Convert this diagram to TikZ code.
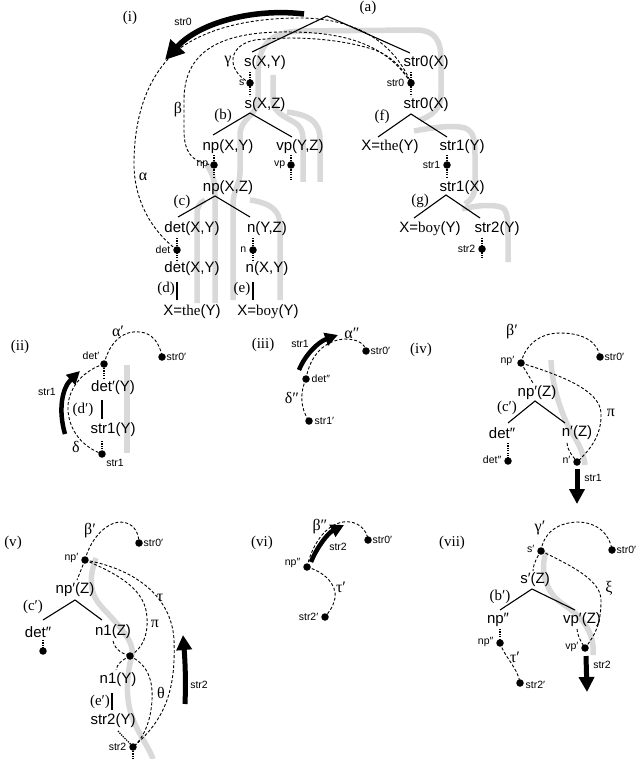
\documentclass[tikz,border=0pt]{standalone}
\usepackage{fontspec}
\setmainfont{Liberation Serif}
\setsansfont{Liberation Sans}
\usetikzlibrary{arrows.meta}
\tikzset{
 tx/.style={font=\sffamily\fontsize{15}{15}\selectfont, inner sep=0.5pt},
 sm/.style={font=\sffamily\fontsize{10.5}{11}\selectfont, inner sep=0.5pt},
 lb/.style={font=\rmfamily\fontsize{15}{15}\selectfont, inner sep=0.5pt},
 gk/.style={font=\rmfamily\fontsize{16}{16}\selectfont, inner sep=0.5pt},
 dotn/.style={circle, fill=black, minimum size=7.5pt, inner sep=0pt},
 tree/.style={line width=1.1pt},
 dsh/.style={line width=0.9pt, dash pattern=on 3pt off 2pt},
 dtd/.style={line width=1.3pt, dash pattern=on 1.2pt off 1.2pt},
 grl/.style={line width=5.5pt, draw=gray!30},
 bigarr/.style={line width=5.5pt, -{Triangle[length=19pt,width=19pt]}},
 midarr/.style={line width=5pt, -{Triangle[length=15pt,width=15pt]}},
 smarr/.style={line width=4.5pt, -{Triangle[length=13pt,width=13pt]}},
}
\begin{document}
\begin{tikzpicture}[x=1pt,y=-1pt]
\useasboundingbox (0,0) rectangle (640,759);

% ---------------- gray threads ----------------
\draw[grl] (258,100) -- (258,75) .. controls (258,45) and (270,32) .. (300,31) -- (415,30) .. controls (435,30) and (441,40) .. (441,60) -- (441,95) .. controls (441,108) and (432,116) .. (420,120);
\draw[grl] (414,131) .. controls (435,127) and (455,125) .. (465,128) .. controls (474,132) and (475,140) .. (475,155) -- (475,185) .. controls (475,195) and (471,200) .. (465,204);
\draw[grl] (462,209) .. controls (478,205) and (495,204) .. (503,208) .. controls (508,212) and (508,222) .. (508,240) -- (508,262);
\draw[grl] (273,75) -- (273,100) .. controls (273,115) and (290,118) .. (298,125) .. controls (303,130) and (303,135) .. (303,145) -- (303,182);
\draw[grl] (287,112) .. controls (310,115) and (320,122) .. (320,140) -- (320,182);
\draw[grl] (258,100) .. controls (258,115) and (240,118) .. (240,135) -- (240,172) .. controls (240,185) and (233,190) .. (233,205) -- (233,300);
\draw[grl] (207,165) .. controls (213,175) and (215,180) .. (215,195) -- (215,303);
\draw[grl] (205,200) .. controls (199,203) and (197,207) .. (197,215) -- (197,303);
\draw[grl] (250,200) .. controls (270,203) and (280,210) .. (280,225) -- (280,300);
\draw[grl] (127,365) -- (127,453);
\draw[grl] (551,360) .. controls (552,385) and (560,410) .. (570,430) .. controls (580,445) and (584,455) .. (585,465);
\draw[grl] (96,558) .. controls (90,575) and (88,590) .. (100,605) .. controls (115,622) and (135,640) .. (132,655) .. controls (128,670) and (125,690) .. (130,710) .. controls (135,730) and (148,745) .. (153,759);
\draw[grl] (546,552) .. controls (540,570) and (545,590) .. (560,602) .. controls (580,615) and (595,630) .. (593,655);

% ---------------- panel (i) ----------------
\node[lb] (Li) at (130,18) {(i)};
\node[lb] (La) at (368,8) {(a)};
\coordinate (a) at (327,16);
\coordinate (sXYt) at (252,52);
\coordinate (str0Xt) at (410,53);
\draw[tree] (sXYt) -- (a) -- (str0Xt);
\node[tx] (sXY) at (265,63) {s(X,Y)};
\node[tx] (str0X) at (426,63) {str0(X)};
\node[dotn] (sdot) at (250,83) {};
\node[sm,anchor=east] (sdl) at (245,83) {s};
\draw[dtd] (250,72) -- (250,96);
\node[tx] (sXZ) at (265,105) {s(X,Z)};
\node[lb] (Lb) at (223,116) {(b)};
\coordinate (b) at (250,113);
\coordinate (npt) at (213,135);
\coordinate (vpt) at (292,137);
\draw[tree] (npt) -- (b) -- (vpt);
\node[tx] (npXY) at (228,147) {np(X,Y)};
\node[tx] (vpYZ) at (300,147) {vp(Y,Z)};
\node[dotn] (npdot) at (214,165) {};
\node[sm,anchor=east] (npdl) at (209,165) {np};
\draw[dtd] (214,155) -- (214,178);
\node[dotn] (vpdot) at (291,165) {};
\node[sm,anchor=east] (vpdl) at (286,165) {vp};
\draw[dtd] (291,155) -- (291,180);
\node[tx] (npXZ) at (228,188) {np(X,Z)};
\node[lb] (Lc) at (182,202) {(c)};
\coordinate (c) at (215,196);
\coordinate (dett) at (178,217);
\coordinate (nt) at (250,217);
\draw[tree] (dett) -- (c) -- (nt);
\node[tx] (detXY) at (192,229) {det(X,Y)};
\node[tx] (nYZ) at (267,229) {n(Y,Z)};
\node[dotn] (detdot) at (177,250) {};
\node[sm,anchor=east] (detdl) at (171,250) {det};
\draw[dtd] (177,238) -- (177,262);
\node[dotn] (ndot) at (253,250) {};
\node[sm,anchor=east] (ndl) at (247,250) {n};
\draw[dtd] (253,238) -- (253,262);
\node[tx] (detXY2) at (192,269) {det(X,Y)};
\node[tx] (nXY) at (267,269) {n(X,Y)};
\coordinate (d1) at (177,282); \coordinate (d2) at (177,300);
\draw[tree] (d1) -- (d2);
\node[lb] (Ld) at (166,289) {(d)};
\coordinate (e1) at (253,282); \coordinate (e2) at (253,300);
\draw[tree] (e1) -- (e2);
\node[lb] (Le) at (242,289) {(e)};
\node[tx] (Xthe) at (192,312) {X=\textrm{the}(Y)};
\node[tx] (Xboy) at (268,312) {X=\textrm{boy}(Y)};

\node[dotn] (str0dot) at (411,83) {};
\node[sm,anchor=east] (str0dl) at (405,83) {str0};
\draw[dtd] (411,72) -- (411,96);
\node[tx] (str0X2) at (426,105) {str0(X)};
\node[lb] (Lf) at (382,117) {(f)};
\coordinate (f) at (411,114);
\coordinate (ft1) at (378,137);
\coordinate (ft2) at (447,137);
\draw[tree] (ft1) -- (f) -- (ft2);
\node[tx] (Xthe2) at (390,147) {X=\textrm{the}(Y)};
\node[tx] (str1Y) at (462,147) {str1(Y)};
\node[dotn] (str1dot) at (447,165) {};
\node[sm,anchor=east] (str1dl) at (441,165) {str1};
\draw[dtd] (447,155) -- (447,178);
\node[tx] (str1X) at (462,188) {str1(X)};
\node[lb] (Lg) at (420,201) {(g)};
\coordinate (g) at (446,195);
\coordinate (gt1) at (414,218);
\coordinate (gt2) at (480,218);
\draw[tree] (gt1) -- (g) -- (gt2);
\node[tx] (Xboy2) at (430,229) {X=\textrm{boy}(Y)};
\node[tx] (str2Y) at (497,229) {str2(Y)};
\node[dotn] (str2dot) at (482,249) {};
\node[sm,anchor=east] (str2dl) at (476,249) {str2};
\draw[dtd] (482,238) -- (482,259);

% dashed continuations in (i)
\draw[dsh] (sdot.center) .. controls (225,70) and (228,45) .. (255,40) .. controls (300,35) and (345,40) .. (375,50) .. controls (395,58) and (403,70) .. (str0dot.center);
\draw[dsh] (npdot.center) .. controls (190,163) and (184,150) .. (184,130) -- (184,100) .. controls (184,55) and (215,33) .. (280,32) .. controls (340,31) and (385,42) .. (str0dot.center);
\draw[dsh] (detdot.center) .. controls (148,228) and (133,195) .. (134,160) .. controls (135,110) and (150,75) .. (175,52) .. controls (205,28) and (250,18) .. (300,18) .. controls (350,18) and (392,38) .. (str0dot.center);
\node[gk] (gam) at (228,62) {γ};
\node[gk] (bet) at (178,110) {β};
\node[gk] (alp) at (143,177) {α};
\coordinate (s0a) at (304,14);
\coordinate (s0b) at (165,60);
\draw[bigarr] (s0a) .. controls (255,8) and (200,22) .. (s0b);
\node[sm] (s0l) at (183,22) {str0};

% ---------------- panel (ii) ----------------
\node[lb] (Lii) at (20,347) {(ii)};
\node[dotn] (det1dot) at (104,364) {};
\node[sm] (det1dl) at (91,356) {det′};
\node[dotn] (s0p2) at (162,357) {};
\node[sm,anchor=west] (s0p2l) at (166,357) {str0′};
\draw[dsh] (det1dot.center) .. controls (110,340) and (125,330) .. (140,332) .. controls (152,333) and (160,343) .. (s0p2.center);
\node[gk] (alp2) at (118,331) {α′};
\draw[dtd] (104,368) -- (104,378);
\node[tx] (det1Y) at (113,388) {det′(Y)};
\coordinate (dp1) at (102,400); \coordinate (dp2) at (102,419);
\draw[tree] (dp1) -- (dp2);
\node[lb] (Ldp) at (83,410) {(d′)};
\node[tx] (str1Y2) at (113,430) {str1(Y)};
\draw[dtd] (102,441) -- (102,452);
\node[dotn] (str1d2) at (102,454) {};
\node[sm] (str1l2) at (115,463) {str1};
\draw[dsh] (det1dot.center) .. controls (85,370) and (70,385) .. (68,405) .. controls (67,425) and (78,445) .. (str1d2.center);
\node[gk] (del) at (76,447) {δ};
\coordinate (a2a) at (65,434);
\coordinate (a2b) at (80,371);
\draw[smarr] (a2a) .. controls (58,410) and (62,388) .. (a2b);
\node[sm] (a2l) at (47,392) {str1};

% ---------------- panel (iii) ----------------
\node[lb] (Liii) at (263,345) {(iii)};
\node[dotn] (det2dot) at (306,379) {};
\node[sm,anchor=west] (det2dl) at (311,379) {det″};
\node[dotn] (s0p3) at (366,351) {};
\node[sm,anchor=west] (s0p3l) at (370,351) {str0′};
\draw[dsh] (det2dot.center) .. controls (310,355) and (325,340) .. (345,339) .. controls (358,339) and (365,344) .. (s0p3.center);
\node[gk] (alp3) at (352,333) {α″};
\node[dotn] (str1p3) at (309,421) {};
\node[sm,anchor=west] (str1p3l) at (314,421) {str1′};
\draw[dsh] (det2dot.center) .. controls (300,392) and (300,408) .. (str1p3.center);
\node[gk] (del3) at (292,398) {δ″};
\coordinate (a3a) at (299,370);
\coordinate (a3b) at (338,335);
\draw[smarr] (a3a) .. controls (305,355) and (318,342) .. (a3b);
\node[sm] (a3l) at (300,344) {str1};

% ---------------- panel (iv) ----------------
\node[lb] (Liv) at (421,350) {(iv)};
\node[dotn] (np4) at (521,363) {};
\node[sm,anchor=east] (np4l) at (515,361) {np′};
\node[dotn] (s0p4) at (600,357) {};
\node[sm,anchor=west] (s0p4l) at (604,357) {str0′};
\draw[dsh] (np4.center) .. controls (525,345) and (540,333) .. (560,333) .. controls (585,333) and (598,343) .. (s0p4.center);
\node[gk] (bet4) at (512,332) {β′};
\node[tx] (np4Z) at (537,393) {np′(Z)};
\draw[dsh] (np4.center) -- (533,383);
\node[lb] (Lc4) at (507,408) {(c′)};
\coordinate (c4) at (535,401);
\coordinate (c4a) at (508,423);
\coordinate (c4b) at (565,423);
\draw[tree] (c4a) -- (c4) -- (c4b);
\node[tx] (det4) at (502,433) {det″};
\node[tx] (n4Z) at (577,433) {n′(Z)};
\node[dotn] (det4dot) at (508,461) {};
\node[sm,anchor=east] (det4dl) at (502,460) {det″};
\draw[dtd] (508,443) -- (508,458);
\node[dotn] (n4dot) at (577,462) {};
\node[sm,anchor=east] (n4dl) at (571,460) {n′};
\draw[dsh] (567,443) .. controls (568,452) and (573,456) .. (n4dot.center);
\draw[dsh] (np4.center) .. controls (560,375) and (600,390) .. (601,413) .. controls (602,435) and (590,450) .. (n4dot.center);
\node[gk] (pi4) at (611,413) {π};
\coordinate (a4a) at (577,469);
\coordinate (a4b) at (577,504);
\draw[midarr] (a4a) -- (a4b);
\node[sm] (a4l) at (593,478) {str1};

% ---------------- panel (v) ----------------
\node[lb] (Lv) at (13,543) {(v)};
\node[dotn] (np5) at (85,560) {};
\node[sm,anchor=east] (np5l) at (79,558) {np′};
\node[dotn] (s0p5) at (139,543) {};
\node[sm,anchor=west] (s0p5l) at (143,543) {str0′};
\draw[dsh] (np5.center) .. controls (90,540) and (105,523) .. (120,522) .. controls (133,522) and (139,532) .. (s0p5.center);
\node[gk] (bet5) at (90,531) {β′};
\node[tx] (np5Z) at (75,590) {np′(Z)};
\draw[dsh] (np5.center) -- (77,580);
\node[lb] (Lc5) at (33,607) {(c′)};
\coordinate (c5) at (75,600);
\coordinate (c5a) at (43,620);
\coordinate (c5b) at (102,620);
\draw[tree] (c5a) -- (c5) -- (c5b);
\node[tx] (det5) at (38,632) {det″};
\node[tx] (n1Z) at (113,632) {n1(Z)};
\node[dotn] (det5dot) at (43,651) {};
\draw[dtd] (43,640) -- (43,648);
\node[dotn] (n1dot) at (130,656) {};
\draw[dsh] (113,641) .. controls (115,650) and (123,654) .. (n1dot.center);
\node[tx] (n1Y) at (118,680) {n1(Y)};
\draw[dsh] (n1dot.center) .. controls (122,660) and (117,664) .. (116,670);
\coordinate (ep1) at (112,693); \coordinate (ep2) at (112,710);
\draw[tree] (ep1) -- (ep2);
\node[lb] (Lep) at (100,702) {(e′)};
\node[tx] (str2Y5) at (113,721) {str2(Y)};
\node[dotn] (str2d5) at (133,747) {};
\node[sm,anchor=east] (str2d5l) at (127,747) {str2};
\draw[dtd] (133,751) -- (133,759);
\draw[dtd] (118,731) .. controls (124,738) and (129,742) .. (str2d5.center);
\draw[dsh] (np5.center) .. controls (140,570) and (172,600) .. (174,640) .. controls (176,690) and (165,720) .. (str2d5.center);
\node[gk] (tau5) at (160,598) {τ};
\draw[dsh] (np5.center) .. controls (120,575) and (146,590) .. (147,618) .. controls (148,635) and (143,648) .. (n1dot.center);
\node[gk] (pi5) at (155,624) {π};
\draw[dsh] (n1dot.center) .. controls (148,665) and (153,680) .. (152,700) .. controls (151,720) and (144,738) .. (str2d5.center);
\node[gk] (th5) at (161,693) {θ};
\coordinate (a5a) at (185,704);
\coordinate (a5b) at (183,635);
\draw[midarr] (a5a) .. controls (186,680) and (185,660) .. (a5b);
\node[sm] (a5l) at (199,685) {str2};

% ---------------- panel (vi) ----------------
\node[lb] (Lvi) at (262,543) {(vi)};
\node[dotn] (np6) at (307,567) {};
\node[sm,anchor=east] (np6l) at (301,563) {np″};
\node[dotn] (s0p6) at (368,540) {};
\node[sm,anchor=west] (s0p6l) at (372,540) {str0′};
\draw[dsh] (np6.center) .. controls (312,545) and (325,525) .. (343,522) .. controls (358,520) and (367,530) .. (s0p6.center);
\node[gk] (bet6) at (320,527) {β″};
\coordinate (a6a) at (311,562);
\coordinate (a6b) at (344,525);
\draw[smarr] (a6a) .. controls (317,547) and (328,533) .. (a6b);
\node[sm] (a6l) at (338,547) {str2};
\node[dotn] (str2p6) at (325,617) {};
\node[sm,anchor=east] (str2p6l) at (319,617) {str2′};
\draw[dsh] (np6.center) .. controls (325,572) and (337,585) .. (335,598) .. controls (333,608) and (328,613) .. (str2p6.center);
\node[gk] (tau6) at (341,587) {τ′};

% ---------------- panel (vii) ----------------
\node[lb] (Lvii) at (452,543) {(vii)};
\node[dotn] (s7) at (541,551) {};
\node[sm,anchor=east] (s7l) at (535,549) {s′};
\node[dotn] (s0p7) at (612,550) {};
\node[sm,anchor=west] (s0p7l) at (616,550) {str0′};
\draw[dsh] (s7.center) .. controls (543,535) and (555,523) .. (577,522) .. controls (598,522) and (610,535) .. (s0p7.center);
\node[gk] (gam7) at (540,528) {γ′};
\node[tx] (s7Z) at (535,580) {s′(Z)};
\draw[dsh] (s7.center) .. controls (535,560) and (533,567) .. (533,571);
\node[lb] (Lb7) at (500,597) {(b′)};
\coordinate (b7) at (532,589);
\coordinate (b7a) at (500,610);
\coordinate (b7b) at (575,610);
\draw[tree] (b7a) -- (b7) -- (b7b);
\node[tx] (np7) at (498,620) {np″};
\node[tx] (vp7Z) at (582,620) {vp′(Z)};
\node[dotn] (np7dot) at (500,643) {};
\node[sm,anchor=east] (np7dl) at (494,642) {np″};
\draw[dtd] (500,629) -- (500,640);
\node[dotn] (str2p7) at (520,683) {};
\node[sm,anchor=west] (str2p7l) at (525,685) {str2′};
\draw[dsh] (np7dot.center) .. controls (505,658) and (518,668) .. (str2p7.center);
\node[gk] (tau7) at (515,657) {τ′};
\node[dotn] (vp7dot) at (585,648) {};
\node[sm,anchor=east] (vp7dl) at (579,647) {vp′};
\draw[dsh] (577,629) .. controls (578,638) and (582,643) .. (vp7dot.center);
\draw[dsh] (s7.center) .. controls (570,565) and (601,580) .. (601,600) .. controls (601,625) and (595,635) .. (vp7dot.center);
\node[gk] (xi7) at (609,588) {ξ};
\coordinate (a7a) at (586,656);
\coordinate (a7b) at (587,692);
\draw[midarr] (a7a) -- (a7b);
\node[sm] (a7l) at (602,665) {str2};
\end{tikzpicture}
\end{document}
